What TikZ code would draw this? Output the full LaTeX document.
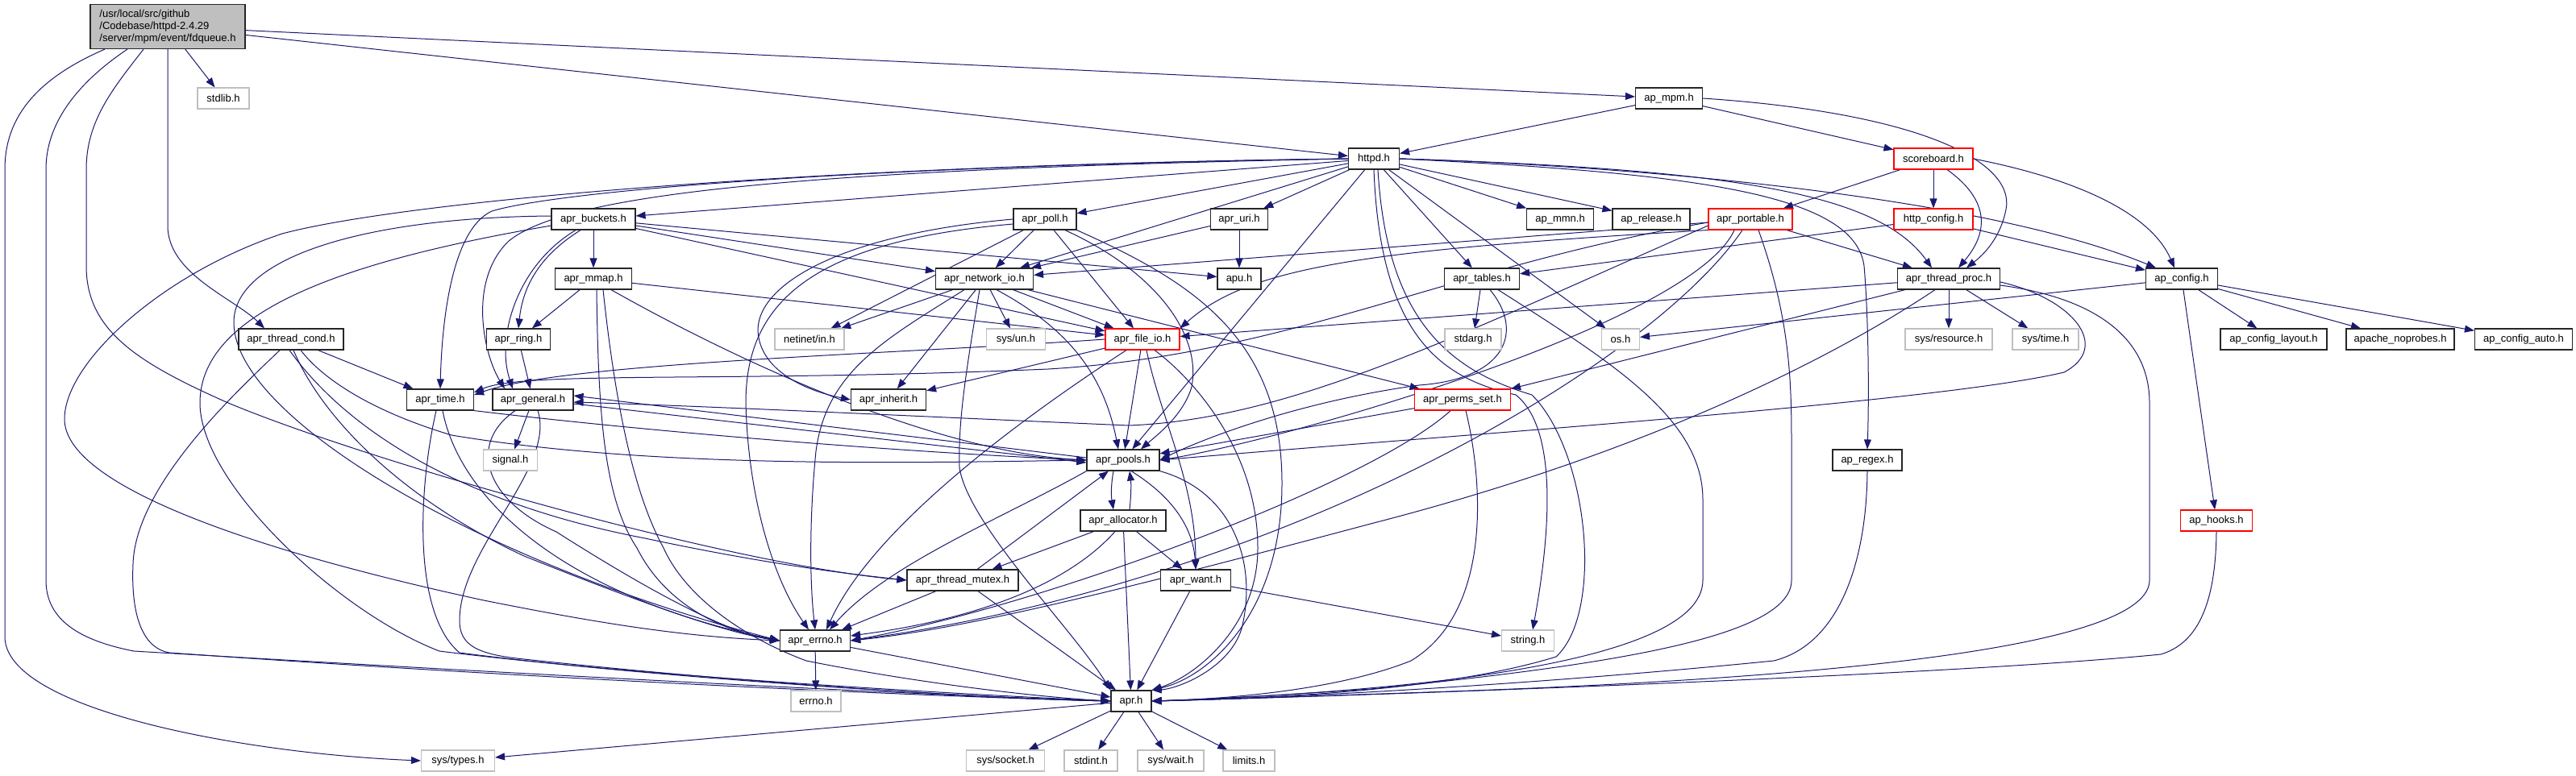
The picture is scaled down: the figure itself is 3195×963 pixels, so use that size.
\documentclass[tikz,border=0pt]{standalone}
\usepackage{fontspec}
\setmainfont{Liberation Sans}
\usetikzlibrary{arrows.meta}
\definecolor{edgec}{HTML}{191970}
\definecolor{grayb}{HTML}{BFBFBF}
\definecolor{fdqfill}{HTML}{BFBFBF}
\pgfdeclarelayer{bg}
\pgfsetlayers{bg,main}
\tikzset{
  nd/.style={draw=black!85, line width=1.2pt, fill=white, minimum height=26pt, inner sep=0pt, font=\fontsize{13}{15}\selectfont},
  ng/.style={nd, draw=grayb, line width=1.1pt},
  nr/.style={nd, draw=red, line width=1.1pt},
  e/.style={draw=edgec, line width=1pt, -{Triangle[length=12pt,width=9pt]}},
}
\begin{document}
\begin{tikzpicture}[x=1pt,y=-1pt]
\useasboundingbox (0,0) rectangle (3195,963);
% nodes
\node[nd, fill=fdqfill, minimum width=192pt, minimum height=55pt, align=left] (fdq) at (208,33) {/usr/local/src/github\\/Codebase/httpd-2.4.29\\/server/mpm/event/fdqueue.h};
\node[ng, minimum width=64pt] (stdlib) at (277,122) {stdlib.h};
\node[nd, minimum width=83pt] (mpm) at (2070,122) {ap\_mpm.h};
\node[nd, minimum width=63pt] (httpd) at (1704,197) {httpd.h};
\node[nr, minimum width=98pt] (score) at (2398,197) {scoreboard.h};
\node[nd, minimum width=104pt] (buck) at (736,272) {apr\_buckets.h};
\node[nd, minimum width=78pt] (poll) at (1296,272) {apr\_poll.h};
\node[nd, minimum width=71pt] (uri) at (1537,272) {apr\_uri.h};
\node[nd, minimum width=83pt] (mmn) at (1935,272) {ap\_mmn.h};
\node[nd, minimum width=96pt] (rel) at (2048,272) {ap\_release.h};
\node[nr, minimum width=104pt] (port) at (2171,272) {apr\_portable.h};
\node[nr, minimum width=98pt] (hconf) at (2398,272) {http\_config.h};
\node[nd, minimum width=95pt] (mmap) at (736,346) {apr\_mmap.h};
\node[nd, minimum width=121pt] (net) at (1221,346) {apr\_network\_io.h};
\node[nd, minimum width=54pt] (apu) at (1537,346) {apu.h};
\node[nd, minimum width=93pt] (tables) at (1838,346) {apr\_tables.h};
\node[nd, minimum width=127pt] (tproc) at (2417,346) {apr\_thread\_proc.h};
\node[nd, minimum width=89pt] (apconf) at (2706,346) {ap\_config.h};
\node[nd, minimum width=130pt] (tcond) at (361,421) {apr\_thread\_cond.h};
\node[nd, minimum width=79pt] (ring) at (643,421) {apr\_ring.h};
\node[ng, minimum width=86pt] (netin) at (1004,421) {netinet/in.h};
\node[ng, minimum width=73pt] (sysun) at (1260,421) {sys/un.h};
\node[nr, minimum width=92pt] (fileio) at (1417,421) {apr\_file\_io.h};
\node[ng, minimum width=70pt] (stdarg) at (1827,421) {stdarg.h};
\node[ng, minimum width=47pt] (os) at (2010,421) {os.h};
\node[ng, minimum width=108pt] (sysres) at (2417,421) {sys/resource.h};
\node[ng, minimum width=82pt] (systime) at (2537,421) {sys/time.h};
\node[nd, minimum width=132pt] (layout) at (2820,421) {ap\_config\_layout.h};
\node[nd, minimum width=134pt] (noprobes) at (2977,421) {apache\_noprobes.h};
\node[nd, minimum width=121pt] (auto) at (3130,421) {ap\_config\_auto.h};
\node[nd, minimum width=83pt] (time) at (546,496) {apr\_time.h};
\node[nd, minimum width=100pt] (general) at (661,496) {apr\_general.h};
\node[nd, minimum width=93pt] (inherit) at (1102,496) {apr\_inherit.h};
\node[nr, minimum width=119pt] (perms) at (1814,496) {apr\_perms\_set.h};
\node[ng, minimum width=67pt] (signal) at (633,571) {signal.h};
\node[nd, minimum width=90pt] (pools) at (1393,571) {apr\_pools.h};
\node[nd, minimum width=86pt] (regex) at (2316,571) {ap\_regex.h};
\node[nd, minimum width=106pt] (alloc) at (1393,646) {apr\_allocator.h};
\node[nr, minimum width=89pt] (hooks) at (2749,646) {ap\_hooks.h};
\node[nd, minimum width=138pt] (mutex) at (1194,720) {apr\_thread\_mutex.h};
\node[nd, minimum width=87pt] (want) at (1483,720) {apr\_want.h};
\node[nd, minimum width=87pt] (errno) at (1011,795) {apr\_errno.h};
\node[ng, minimum width=65pt] (string) at (1895,795) {string.h};
\node[ng, minimum width=62pt] (errnoh) at (1012,870) {errno.h};
\node[nd, minimum width=50pt] (apr) at (1403,870) {apr.h};
\node[ng, minimum width=91pt] (systypes) at (568,944) {sys/types.h};
\node[ng, minimum width=97pt] (syssock) at (1247,944) {sys/socket.h};
\node[ng, minimum width=66pt] (stdint) at (1353,944) {stdint.h};
\node[ng, minimum width=82pt] (syswait) at (1452,944) {sys/wait.h};
\node[ng, minimum width=64pt] (limits) at (1549,944) {limits.h};

\begin{pgfonlayer}{bg}
% fdqueue
\draw[e] (fdq) -- (stdlib);
\draw[e] (fdq) -- (mpm);
\draw[e] (fdq) -- (httpd);
\draw[e] (fdq.south) -- (208,280) .. controls (208,340) and (290,370) .. ([xshift=-33pt]tcond.north);
\draw[e] ([xshift=-78pt]fdq.south) .. controls (40,100) and (6,150) .. (6,210) -- (6,790) .. controls (6,880) and (300,935) .. (systypes.west);
\draw[e] ([xshift=-50pt]fdq.south) .. controls (100,100) and (57,150) .. (57,210) -- (57,720) .. controls (57,770) and (100,795) .. (166,808) .. controls (700,840) and (1200,865) .. (apr.west);
\draw[e] ([xshift=-30pt]fdq.south) .. controls (140,110) and (107,150) .. (107,210) -- (107,330) .. controls (107,410) and (170,450) .. (283,500) .. controls (450,570) and (900,700) .. (mutex.west);
% ap_mpm
\draw[e] (mpm) -- (httpd);
\draw[e] (mpm) -- (score);
\draw[e] (mpm.east) .. controls (2380,140) and (2500,200) .. (2488,260) .. controls (2480,300) and (2455,320) .. ([xshift=22pt]tproc.north);
% scoreboard
\draw[e] (score) -- (port);
\draw[e] (score) -- (hconf);
\draw[e] ([xshift=17pt]score.south) .. controls (2470,250) and (2465,290) .. ([xshift=12pt]tproc.north);
\draw[e] (score.east) .. controls (2590,225) and (2670,270) .. ([xshift=-9pt]apconf.north);
% http_config
\draw[e] (hconf) -- (apconf);
\draw[e] (hconf) -- (tables);
% httpd
\draw[e] (httpd) -- (mmn);
\draw[e] (httpd) -- (rel);
\draw[e] (httpd) -- (tables);
\draw[e] (httpd) -- (os);
\draw[e] (httpd) -- (uri);
\draw[e] (httpd) -- (poll);
\draw[e] (httpd) -- (net);
\draw[e] (httpd) -- (buck);
\draw[e] (httpd) -- (pools);
\draw[e] (httpd.west) .. controls (1100,205) and (700,235) .. (610,262) .. controls (560,285) and (548,400) .. (time.north);
\draw[e] (httpd.west) .. controls (1000,210) and (700,240) .. (630,300) .. controls (580,350) and (600,440) .. ([xshift=-35pt]general.north);
\draw[e] (httpd.west) .. controls (1000,205) and (500,250) .. (350,290) .. controls (200,340) and (80,450) .. (80,520) .. controls (80,600) and (300,680) .. (600,745) .. controls (750,775) and (850,790) .. (errno.west);
\draw[e] (httpd.south) .. controls (1712,420) and (1790,470) .. (1880,490) .. controls (1930,530) and (1925,650) .. ([xshift=6pt]string.north);
\draw[e] ([xshift=5pt]httpd.south) .. controls (1720,400) and (1800,460) .. (1900,490) .. controls (1970,560) and (1990,760) .. (1930,815) .. controls (1800,855) and (1600,866) .. (apr.east);
\draw[e] (httpd.east) .. controls (2100,215) and (2300,240) .. (2312,330) .. controls (2318,400) and (2318,500) .. (regex.north);
\draw[e] (httpd.east) .. controls (2150,210) and (2330,240) .. ([xshift=-21pt]tproc.north);
\draw[e] (httpd.east) .. controls (2000,205) and (2450,240) .. ([xshift=-32pt]apconf.north);
% apr_buckets
\draw[e] (buck) -- (mmap);
\draw[e] ([xshift=-16pt]buck.south) .. controls (665,320) and (648,360) .. (ring.north);
\draw[e] ([xshift=-22pt]buck.south) .. controls (640,330) and (615,420) .. ([xshift=-25pt]general.north);
\draw[e] (buck) -- (net);
\draw[e] (buck) -- (fileio);
\draw[e] (buck) -- (apu);
\draw[e] ([yshift=-8pt]buck.west) .. controls (450,320) and (248,380) .. (248,500) .. controls (248,600) and (420,760) .. (545,808) .. controls (800,840) and (1200,862) .. (apr.west);
\draw[e] ([yshift=4pt]buck.west) .. controls (450,270) and (290,320) .. (290,400) .. controls (290,520) and (600,700) .. (errno.west);
% apr_mmap
\draw[e] (mmap) -- (ring);
\draw[e] (mmap) -- (fileio);
\draw[e] ([xshift=4pt]mmap.south) .. controls (742,520) and (750,620) .. (790,680) .. controls (820,740) and (880,780) .. (errno.west);
\draw[e] ([xshift=12pt]mmap.south) .. controls (765,520) and (790,620) .. (823,680) .. controls (850,740) and (920,790) .. (1000,820) .. controls (1150,850) and (1300,866) .. (apr.west);
\draw[e] ([xshift=22pt]mmap.south) .. controls (900,440) and (1150,560) .. (pools.west);
% apr_poll
\draw[e] (poll) -- (netin);
\draw[e] (poll) -- (net);
\draw[e] (poll) -- (fileio);
\draw[e] (poll.west) .. controls (1050,290) and (940,350) .. (940,410) .. controls (942,460) and (1000,485) .. (inherit.west);
\draw[e] ([yshift=-6pt]poll.west) .. controls (1000,300) and (925,380) .. (925,500) .. controls (928,620) and (960,720) .. ([xshift=-8pt]errno.north);
\draw[e] ([xshift=25pt]poll.south) .. controls (1440,340) and (1490,420) .. (1478,480) .. controls (1468,515) and (1435,540) .. ([xshift=22pt]pools.north);
\draw[e] (poll.south east) .. controls (1480,350) and (1590,420) .. (1590,600) .. controls (1590,760) and (1500,840) .. (apr.north east);
% apr_uri
\draw[e] (uri) -- (apu);
\draw[e] (uri) -- (net);
% apr_network_io
\draw[e] (net) -- (netin);
\draw[e] (net) -- (sysun);
\draw[e] (net) -- (fileio);
\draw[e] (net) -- (inherit);
\draw[e] (net) -- (perms);
\draw[e] ([xshift=-25pt]net.south) .. controls (1100,420) and (1025,460) .. (1012,560) .. controls (1004,640) and (1004,720) .. (errno.north);
\draw[e] ([xshift=-6pt]net.south) .. controls (1200,450) and (1188,520) .. (1190,580) .. controls (1200,650) and (1330,780) .. (apr.north west);
\draw[e] ([xshift=15pt]net.south) .. controls (1330,410) and (1370,470) .. ([xshift=-6pt]pools.north);
% apr_file_io
\draw[e] (fileio.west) .. controls (1100,440) and (700,450) .. ([yshift=6pt]time.east);
\draw[e] (fileio) -- (inherit);
\draw[e] (fileio) -- (pools);
\draw[e] ([xshift=-20pt]fileio.south) .. controls (1250,530) and (1080,660) .. ([xshift=14pt]errno.north);
\draw[e] ([xshift=5pt]fileio.south) .. controls (1440,520) and (1483,600) .. (want.north);
\draw[e] ([xshift=15pt]fileio.south) .. controls (1480,470) and (1560,560) .. (1560,680) .. controls (1560,780) and (1480,840) .. (apr.north east);
% apr_tables
\draw[e] (tables) -- (stdarg);
\draw[e] ([xshift=10pt]tables.south) .. controls (1890,410) and (1870,470) .. (1760,478) .. controls (1600,500) and (1480,550) .. (pools.east);
\draw[e] ([xshift=20pt]tables.south) .. controls (2000,450) and (2112,520) .. (2112,620) -- (2112,720) .. controls (2112,830) and (1700,860) .. (apr.east);
% apr_thread_proc
\draw[e] (tproc) -- (sysres);
\draw[e] (tproc) -- (systime);
\draw[e] (tproc) -- (fileio);
\draw[e] (tproc) -- (perms.north east);
\draw[e] ([yshift=-4pt]tproc.east) .. controls (2570,370) and (2620,430) .. (2560,462) .. controls (2400,500) and (1800,540) .. (pools.east);
\draw[e] ([xshift=-17pt]tproc.south) .. controls (2280,440) and (2050,560) .. (1700,650) .. controls (1400,730) and (1200,780) .. (errno.east);
\draw[e] ([yshift=-8pt]tproc.east) .. controls (2600,370) and (2666,420) .. (2666,500) -- (2666,720) .. controls (2666,800) and (2300,840) .. (1800,858) .. controls (1600,865) and (1500,868) .. (apr.east);
% apr_portable
\draw[e] (port) -- (tproc);
\draw[e] (port) -- (net);
\draw[e] (port.south west) .. controls (1700,310) and (1550,330) .. (fileio.north east);
\draw[e] ([yshift=-4pt]port.west) .. controls (1800,330) and (1600,440) .. (1300,458) .. controls (900,475) and (650,460) .. ([yshift=9pt]time.east);
\draw[e] ([yshift=-8pt]port.west) .. controls (1800,420) and (1600,520) .. (1400,528) .. controls (1100,515) and (900,505) .. ([yshift=-3pt]general.east);
\draw[e] ([xshift=-20pt]port.south) .. controls (2100,400) and (1600,545) .. (pools.east);
\draw[e] ([xshift=-10pt]port.south) .. controls (2050,450) and (1600,720) .. (errno.east);
\draw[e] ([xshift=10pt]port.south) .. controls (2222,400) and (2222,480) .. (2222,560) -- (2222,720) .. controls (2222,790) and (2000,825) .. (1700,855) .. controls (1600,862) and (1500,868) .. (apr.east);
% apr_perms_set
\draw[e] (perms) -- (pools);
\draw[e] (perms) .. controls (1700,600) and (1300,750) .. (errno.east);
\draw[e] ([xshift=4pt]perms.south) .. controls (1840,600) and (1850,760) .. (1750,820) .. controls (1650,860) and (1500,868) .. (apr.east);
% apr_thread_cond
\draw[e] (tcond) -- (time);
\draw[e] ([xshift=12pt]tcond.south) .. controls (400,470) and (460,510) .. (560,540) .. controls (800,580) and (1100,575) .. (pools.west);
\draw[e] ([xshift=3pt]tcond.south) .. controls (400,520) and (500,620) .. (650,690) .. controls (800,750) and (900,785) .. (errno.west);
\draw[e] ([xshift=-14pt]tcond.south) .. controls (300,480) and (168,600) .. (165,700) .. controls (162,770) and (180,805) .. (210,810) .. controls (700,845) and (1200,866) .. (apr.west);
\draw[e] ([xshift=-2pt]tcond.south) .. controls (420,520) and (550,620) .. (800,668) .. controls (950,700) and (1050,712) .. (mutex.west);
% apr_time
\draw[e] ([xshift=-5pt]time.south) .. controls (520,600) and (510,760) .. (570,810) .. controls (800,840) and (1200,866) .. (apr.west);
\draw[e] ([xshift=3pt]time.south) .. controls (570,620) and (700,740) .. (errno.west);
\draw[e] (time.south east) .. controls (800,535) and (1100,560) .. (pools.west);
% apr_general
\draw[e] (general) -- (signal);
\draw[e] ([xshift=6pt]general.south) .. controls (690,580) and (570,680) .. (570,770) .. controls (570,800) and (590,812) .. (650,818) .. controls (900,845) and (1200,866) .. (apr.west);
\draw[e] ([xshift=-22pt]general.south) .. controls (580,550) and (600,620) .. (690,660) .. controls (800,730) and (900,785) .. (errno.west);
\draw[e] ([yshift=-5pt]general.east) -- ([yshift=-3pt]pools.west);
\draw[e] ([yshift=3pt]pools.west) -- ([yshift=5pt]general.east);
% apr_ring
\draw[e] (ring) -- (general);
% apr_pools
\draw[e] ([xshift=-12pt]pools.south) .. controls (1378,600) and (1378,615) .. ([xshift=-12pt]alloc.north);
\draw[e] ([xshift=8pt]alloc.north) .. controls (1403,615) and (1403,600) .. ([xshift=8pt]pools.south);
\draw[e] ([xshift=10pt]pools.south) .. controls (1460,620) and (1480,660) .. (want.north);
\draw[e] (pools.south east) .. controls (1530,610) and (1560,700) .. (1540,780) .. controls (1525,830) and (1460,855) .. (apr.north east);
\draw[e] (pools.south west) .. controls (1250,640) and (1100,700) .. ([xshift=18pt]errno.north);
% apr_allocator
\draw[e] (alloc) -- (mutex);
\draw[e] (alloc) -- (want);
\draw[e] (alloc) -- (apr);
\draw[e] ([xshift=-10pt]alloc.south) .. controls (1320,730) and (1200,770) .. ([yshift=6pt]errno.east);
% apr_thread_mutex
\draw[e] (mutex) -- (pools);
\draw[e] (mutex) -- (errno);
\draw[e] (mutex) -- (apr);
% apr_want
\draw[e] (want) -- (apr);
\draw[e] (want) -- (string);
% apr_errno
\draw[e] (errno) -- (errnoh);
\draw[e] (errno) -- (apr);
% apr.h
\draw[e] (apr) -- (systypes);
\draw[e] (apr) -- (syssock);
\draw[e] (apr) -- (stdint);
\draw[e] (apr) -- (syswait);
\draw[e] (apr) -- (limits);
% ap_config
\draw[e] (apconf) -- (os);
\draw[e] (apconf) -- (layout);
\draw[e] (apconf) -- (noprobes);
\draw[e] (apconf) -- (auto);
\draw[e] (apconf) -- (hooks);
% ap_hooks, ap_regex
\draw[e] (hooks.south) .. controls (2748,760) and (2720,800) .. (2680,812) .. controls (2400,840) and (1600,866) .. (apr.east);
\draw[e] (regex.south) .. controls (2315,700) and (2280,800) .. (2200,820) .. controls (1900,850) and (1600,866) .. (apr.east);
\end{pgfonlayer}
\end{tikzpicture}
\end{document}
